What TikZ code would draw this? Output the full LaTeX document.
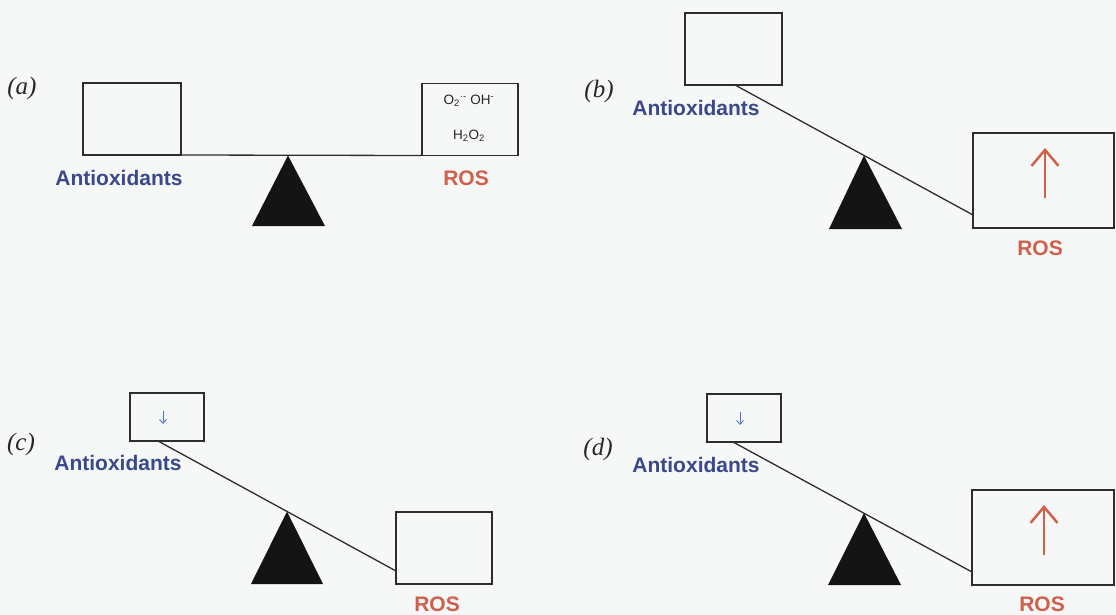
\documentclass[tikz,border=0pt]{standalone}
\usepackage{fontspec}
\setmainfont{Liberation Serif}
\setsansfont{Liberation Sans}
\usetikzlibrary{arrows.meta}
\definecolor{bgc}{RGB}{246,247,247}
\definecolor{linec}{RGB}{45,45,48}
\definecolor{antic}{RGB}{58,72,140}
\definecolor{rosc}{RGB}{208,96,74}
\definecolor{downc}{RGB}{80,118,200}
\tikzset{
  box/.style={draw=linec, line width=1.3pt, rectangle, inner sep=0pt, outer sep=0pt, anchor=north west},
  beam/.style={draw=linec, line width=1.3pt},
  fulcrum/.style={fill=black!92},
  antilabel/.style={text=antic, font=\sffamily\bfseries\fontsize{21}{25}\selectfont, inner sep=0pt},
  roslabel/.style={text=rosc, font=\sffamily\bfseries\fontsize{21}{25}\selectfont, inner sep=0pt},
  panel/.style={font=\itshape\fontsize{25}{30}\selectfont, inner sep=0pt, text=black!85},
  chem/.style={font=\sffamily\fontsize{13.5}{16}\selectfont, inner sep=0pt, text=black!85},
  uparrow/.style={draw=rosc, line width=2.5pt, -{Straight Barb[length=16pt,width=27pt]}},
  downarrow/.style={draw=downc, line width=0.9pt, -{Straight Barb[length=4pt,width=7pt]}}
}
\begin{document}
\begin{tikzpicture}[x=1pt, y=-1pt]
\fill[bgc] (0,0) rectangle (1116,615);
\useasboundingbox (0,0) rectangle (1116,615);

% ---------- (a) ----------
\node[panel] (pa) at (22,88) {(a)};
\node[box, minimum width=98pt, minimum height=72pt] (lbA) at (83,83) {};
\node[box, minimum width=96pt, minimum height=72pt] (rbA) at (422,83.5) {};
\node[chem] (chA1) at (469,101) {O\textsubscript{2}\textsuperscript{·-} OH\textsuperscript{-}};
\node[chem] (chA2) at (469,136) {H\textsubscript{2}O\textsubscript{2}};
\coordinate (apA) at (288,155.5);
\fill[fulcrum] (apA) -- (252,226) -- (325,226) -- cycle;
\draw[beam] (lbA.south east) -- (rbA.south west);
\node[antilabel] (anA) at (119,178) {Antioxidants};
\node[roslabel] (roA) at (466,178) {ROS};

% ---------- (b) ----------
\node[panel] (pb) at (599,91) {(b)};
\node[box, minimum width=97pt, minimum height=72pt] (tbB) at (685,13) {};
\node[box, minimum width=141pt, minimum height=95pt] (rbB) at (973,133) {};
\coordinate (apB) at (864,155.5);
\fill[fulcrum] (apB) -- (829,229) -- (902,229) -- cycle;
\draw[beam] ([xshift=1.5pt]tbB.south) -- ([yshift=13pt]rbB.south west);
\coordinate (uaB1) at (1045,198);
\coordinate (uaB2) at (1045,148);
\draw[uparrow] (uaB1) -- (uaB2);
\node[antilabel] (anB) at (696,108) {Antioxidants};
\node[roslabel] (roB) at (1040,248) {ROS};

% ---------- (c) ----------
\node[panel] (pc) at (21,444) {(c)};
\node[box, minimum width=74pt, minimum height=48pt] (tbC) at (130,393) {};
\node[box, minimum width=96pt, minimum height=72pt] (rbC) at (396,512) {};
\coordinate (apC) at (287,511.5);
\fill[fulcrum] (apC) -- (251,584) -- (323,584) -- cycle;
\draw[beam] ([xshift=-9pt]tbC.south) -- ([yshift=13pt]rbC.south west);
\coordinate (daC1) at (163,411);
\coordinate (daC2) at (163,424);
\draw[downarrow] (daC1) -- (daC2);
\node[antilabel] (anC) at (118,463) {Antioxidants};
\node[roslabel] (roC) at (437,604) {ROS};

% ---------- (d) ----------
\node[panel] (pd) at (598,449) {(d)};
\node[box, minimum width=74pt, minimum height=48pt] (tbD) at (707,394) {};
\node[box, minimum width=142pt, minimum height=95pt] (rbD) at (972,490) {};
\coordinate (apD) at (864,513);
\fill[fulcrum] (apD) -- (828,585) -- (901,585) -- cycle;
\draw[beam] ([xshift=-11pt]tbD.south) -- ([yshift=13pt]rbD.south west);
\coordinate (daD1) at (740,412);
\coordinate (daD2) at (740,425);
\draw[downarrow] (daD1) -- (daD2);
\coordinate (uaD1) at (1044,555);
\coordinate (uaD2) at (1044,505);
\draw[uparrow] (uaD1) -- (uaD2);
\node[antilabel] (anD) at (696,465) {Antioxidants};
\node[roslabel] (roD) at (1042,604) {ROS};
\end{tikzpicture}
\end{document}
